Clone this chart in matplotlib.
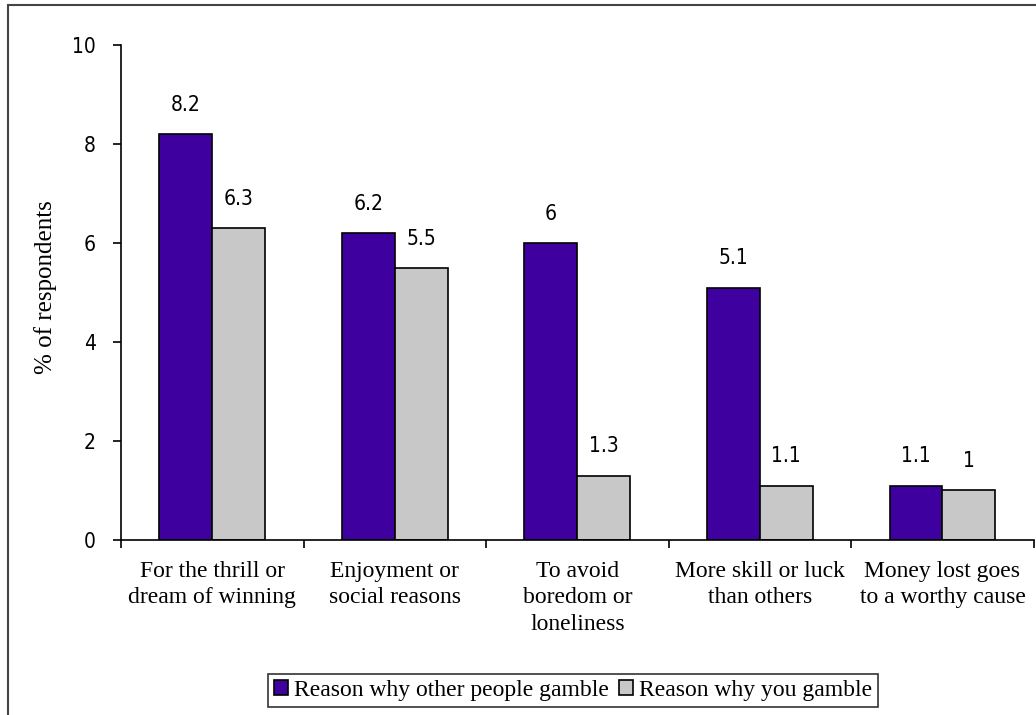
import numpy as np
import matplotlib
matplotlib.use("Agg")
import matplotlib.pyplot as plt
from matplotlib.patches import Rectangle

categories = ["For the thrill or\ndream of winning", "Enjoyment or\nsocial reasons",
              "To avoid\nboredom or\nloneliness", "More skill or luck\nthan others",
              "Money lost goes\nto a worthy cause"]
others = [8.2, 6.2, 6, 5.1, 1.1]
you = [6.3, 5.5, 1.3, 1.1, 1]
series_names = ["Reason why other people gamble", "Reason why you gamble"]
yticks = [0, 2, 4, 6, 8, 10]

serif = "Liberation Serif"
num_font = dict(family="DejaVu Sans", stretch="condensed", size=15)

fig = plt.figure(figsize=(10.36, 7.15), dpi=100)
ax = fig.add_axes([0.1168, 0.2448, 0.8810, 0.6923])

x = np.arange(len(categories))
w = 0.29
b1 = ax.bar(x - w / 2, others, w, color="#3f00a0", edgecolor="black", linewidth=1.2,
            label=series_names[0])
b2 = ax.bar(x + w / 2, you, w, color="#c8c8c8", edgecolor="black", linewidth=1.2,
            label=series_names[1])

for bars, vals in [(b1, others), (b2, you)]:
    for r, v in zip(bars, vals):
        ax.annotate("{:g}".format(v), (r.get_x() + r.get_width() / 2, v),
                    xytext=(0, 21), textcoords="offset points", ha="center", va="center",
                    **num_font)

ax.set_xlim(-0.5, len(categories) - 0.5)
ax.set_ylim(0, 10)
ax.set_yticks(yticks)
ax.set_yticklabels([str(t) for t in yticks], **num_font)
ax.set_xticks(np.arange(len(categories) + 1) - 0.5)
ax.set_xticklabels([])
ax.set_xticks(x, minor=True)
ax.set_xticklabels(categories, minor=True, family=serif, size=17, linespacing=1.35)
ax.tick_params(axis="x", which="minor", length=0, pad=15)
ax.tick_params(axis="x", which="major", length=6, width=1.2, direction="out")
ax.tick_params(axis="y", length=6, width=1.2, direction="out", pad=12)
for lab in ax.get_xticklabels(minor=True):
    lab.set_verticalalignment("top")

ax.spines["top"].set_visible(False)
ax.spines["right"].set_visible(False)
for s in ["left", "bottom"]:
    ax.spines[s].set_linewidth(1.2)

ax.set_ylabel("% of respondents", family=serif, size=18)
ax.yaxis.set_label_coords(-0.07, 0.51)

leg = fig.legend(loc="center", bbox_to_anchor=(0.553, 0.034), ncol=2, frameon=True,
                 fancybox=False, edgecolor="black", prop=dict(family=serif, size=17),
                 handlelength=0.6, handleheight=0.6, handletextpad=0.25, columnspacing=0.4,
                 borderpad=0.25, borderaxespad=0)
leg.get_frame().set_linewidth(1.2)

fig.patches.append(Rectangle((8 / 1036, -0.1), 1.2, 1 - 5 / 715 + 0.1,
                             transform=fig.transFigure, fill=False,
                             edgecolor="#444444", linewidth=1.5))

fig.savefig("out.png", dpi=100)
